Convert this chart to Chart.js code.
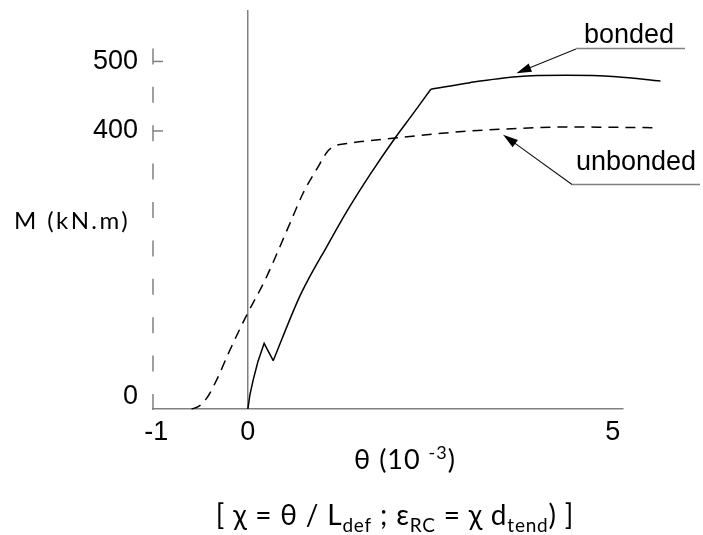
<!DOCTYPE html>
<html>
<head>
<meta charset="utf-8">
<script src="https://cdn.jsdelivr.net/npm/chart.js@4/dist/chart.umd.min.js"></script>
<style>
  html, body { margin: 0; padding: 0; background: #fff; }
  #wrap { width: 703px; height: 535px; }
</style>
</head>
<body>
<div id="wrap"><canvas id="c" width="703" height="535"></canvas></div>
<script>
// Moment–rotation response of the joint, bonded vs unbonded tendon
const xTicks = [-1, 0, 5];
const xTickLabels = ['-1     ', '0', '5'];
const yTicks = [0, 400, 500];
const yTickLabels = [['0', ''], '400', '500'];

const bondedTheta = [0, 0.027, 0.073, 0.137, 0.223, 0.347, 0.689, 0.826, 1.078, 1.352, 1.671, 2.014, 2.264, 2.507, 3.041, 3.681, 4.366, 5.051, 5.653];
const bondedM     = [0, 20, 42, 68, 94.5, 69.5, 157, 186, 233, 283.5, 336.7, 389.5, 425, 460, 469.5, 478, 480, 478, 472];

const unbondedTheta = [-0.771, -0.681, -0.566, -0.429, -0.247, -0.018, 0.233, 0.575, 0.753, 0.986, 1.096, 1.192, 1.352, 1.986, 3.041, 3.452, 4.366, 5.599];
const unbondedM     = [0, 3.3, 15.3, 41.6, 84.6, 134.8, 185, 266.7, 309.7, 352.7, 371.3, 378.5, 381.8, 389.5, 400, 402.4, 405.7, 404.7];

// where the callout arrows touch each curve (theta, M)
const bondedCallout = [3.68, 483];
const unbondedCallout = [3.497, 394.5];

// the bonded curve has sharp kinks at these points (indices into bondedTheta)
const bondedKinks = [5, 13];

const AXIS_GREY = '#808080';
const ARIAL = "'Liberation Sans', Arial, sans-serif";
const HUMANIST = "Lato, 'Open Sans', sans-serif";

function toXY(xs, ys) { return xs.map((x, i) => ({ x: x, y: ys[i] })); }

function drawArrow(ctx, x0, y0, x1, y1) {
  const a = Math.atan2(y1 - y0, x1 - x0);
  const L = 15, W = 4.5;
  const c = Math.cos(a), s = Math.sin(a);
  ctx.beginPath();
  ctx.moveTo(x0, y0);
  ctx.lineTo(x1 - L * c * 0.7, y1 - L * s * 0.7);
  ctx.stroke();
  ctx.beginPath();
  ctx.moveTo(x1, y1);
  ctx.lineTo(x1 - L * c + W * s, y1 - L * s - W * c);
  ctx.lineTo(x1 - L * c - W * s, y1 - L * s + W * c);
  ctx.closePath();
  ctx.fill();
}

// draws a run of [text, kind] pieces; kind: 'n' normal, 'sub', 'sup'
function drawRich(ctx, pieces, cx, baseline, size, spacing) {
  const small = Math.round(size * 0.68);
  const fontOf = k => (k === 'n' ? size : small) + 'px ' + HUMANIST;
  ctx.letterSpacing = spacing + 'px';
  let total = 0;
  pieces.forEach(p => { ctx.font = fontOf(p[1]); total += ctx.measureText(p[0]).width; });
  let x = cx - total / 2;
  ctx.textAlign = 'left';
  ctx.textBaseline = 'alphabetic';
  pieces.forEach(p => {
    ctx.font = fontOf(p[1]);
    let dy = 0;
    if (p[1] === 'sub') dy = size * 0.26;
    if (p[1] === 'sup') dy = -size * 0.36;
    ctx.fillText(p[0], x, baseline + dy);
    x += ctx.measureText(p[0]).width;
  });
  ctx.letterSpacing = '0px';
}

const decorations = {
  id: 'decorations',
  afterDraw(chart) {
    const ctx = chart.ctx;
    const xs = chart.scales.x, ys = chart.scales.y;
    const area = chart.chartArea;
    ctx.save();

    // dashed moment axis
    ctx.strokeStyle = AXIS_GREY;
    ctx.lineWidth = 1.5;
    ctx.setLineDash([16, 22.4]);
    ctx.beginPath();
    ctx.moveTo(area.left, area.bottom + 1);
    ctx.lineTo(area.left, 47);
    ctx.stroke();
    ctx.setLineDash([]);

    // inward tick marks at 400 and 500
    [400, 500].forEach(v => {
      const py = ys.getPixelForValue(v);
      ctx.beginPath();
      ctx.moveTo(area.left, py);
      ctx.lineTo(area.left + 10, py);
      ctx.stroke();
    });

    // axis titles
    ctx.fillStyle = '#000';
    ctx.font = '24px ' + HUMANIST;
    ctx.letterSpacing = '2.4px';
    ctx.textAlign = 'left';
    ctx.textBaseline = 'alphabetic';
    ctx.fillText('M (kN.m)', 14, 229);
    ctx.letterSpacing = '0px';

    drawRich(ctx, [['θ (10 ', 'n'], ['-3', 'sup'], [')', 'n']], 405, 469, 27, 1);
    drawRich(ctx, [
      ['[ χ = θ / L', 'n'], ['def', 'sub'], [' ; ε', 'n'], ['RC', 'sub'],
      [' = χ d', 'n'], ['tend', 'sub'], [') ]', 'n']
    ], 395, 525, 28, 0.8);

    // callouts
    ctx.font = '27px ' + ARIAL;
    ctx.textAlign = 'center';
    ctx.fillText('bonded', 629, 43);
    ctx.fillText('unbonded', 636, 170);

    ctx.strokeStyle = AXIS_GREY;
    ctx.lineWidth = 1.5;
    ctx.beginPath();
    ctx.moveTo(576, 48.5); ctx.lineTo(685, 48.5);
    ctx.moveTo(572, 184.5); ctx.lineTo(700, 184.5);
    ctx.stroke();

    ctx.strokeStyle = '#111';
    ctx.fillStyle = '#000';
    ctx.lineWidth = 1.1;
    drawArrow(ctx, 576, 49, xs.getPixelForValue(bondedCallout[0]), ys.getPixelForValue(bondedCallout[1]));
    drawArrow(ctx, 572, 184.5, xs.getPixelForValue(unbondedCallout[0]), ys.getPixelForValue(unbondedCallout[1]));

    ctx.restore();
  }
};

// bonded curve split at its kinks: straight early branch, smooth branches after
const bondedPts = toXY(bondedTheta, bondedM);
const cuts = [0].concat(bondedKinks, [bondedPts.length - 1]);
const bondedSets = [];
for (let k = 0; k < cuts.length - 1; k++) {
  bondedSets.push({
    label: 'bonded',
    data: bondedPts.slice(cuts[k], cuts[k + 1] + 1),
    borderColor: '#000',
    borderWidth: 1.5,
    pointRadius: 0,
    cubicInterpolationMode: k === 0 ? 'default' : 'monotone',
    tension: 0,
    clip: false
  });
}

new Chart(document.getElementById('c'), {
  type: 'line',
  data: {
    datasets: bondedSets.concat([
      {
        label: 'unbonded',
        data: toXY(unbondedTheta, unbondedM),
        borderColor: '#000',
        borderWidth: 1.5,
        borderDash: [10, 7],
        pointRadius: 0,
        cubicInterpolationMode: 'monotone',
        clip: false
      }
    ])
  },
  options: {
    responsive: false,
    devicePixelRatio: 1,
    animation: false,
    layout: { padding: { top: 10, right: 80, left: 0, bottom: 0 } },
    plugins: { legend: { display: false }, tooltip: { enabled: false } },
    scales: {
      x: {
        type: 'linear',
        min: -1.3,
        max: 5.14,
        afterBuildTicks: s => { s.ticks = xTicks.map(v => ({ value: v })); },
        afterFit: s => { s.height = 126; s.paddingLeft = 0; s.paddingRight = 0; },
        ticks: {
          callback: (v, i) => xTickLabels[i],
          font: { family: ARIAL, size: 27 },
          color: '#000',
          padding: 7,
          maxRotation: 0,
          autoSkip: false
        },
        grid: {
          color: c => (c.tick && c.tick.value === 0 ? AXIS_GREY : 'rgba(0,0,0,0)'),
          lineWidth: 1.5,
          drawTicks: false
        },
        border: { color: AXIS_GREY, width: 1.5 }
      },
      y: {
        type: 'linear',
        min: 0,
        max: 574,
        afterBuildTicks: s => { s.ticks = yTicks.map(v => ({ value: v })); },
        afterFit: s => { s.width = 153; s.paddingTop = 0; s.paddingBottom = 0; },
        ticks: {
          callback: (v, i) => yTickLabels[i],
          font: { family: ARIAL, size: 27, lineHeight: 0.91 },
          color: '#000',
          padding: 15,
          autoSkip: false
        },
        grid: { display: false, drawTicks: false },
        border: { display: false }
      }
    }
  },
  plugins: [decorations]
});
</script>
</body>
</html>
